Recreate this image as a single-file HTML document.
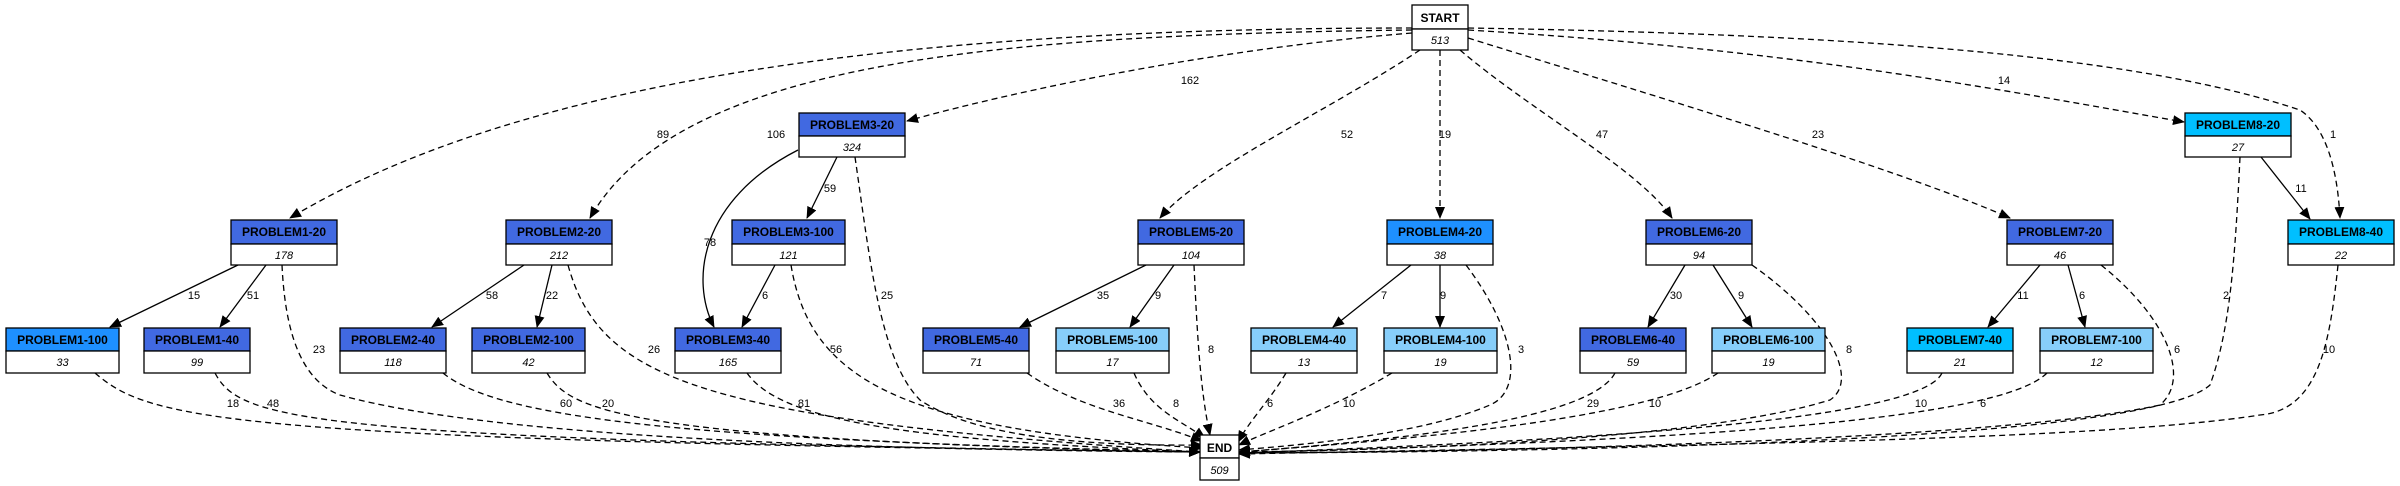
<!DOCTYPE html>
<html><head><meta charset="utf-8"><style>
body{margin:0;background:#fff;}
svg{display:block;font-family:"Liberation Sans",sans-serif;}
.n{stroke:#000;stroke-width:1.3;}
.h{font-weight:bold;font-size:12px;text-anchor:middle;}
.c{font-style:italic;font-size:11px;text-anchor:middle;}
.l{font-size:11px;text-anchor:middle;}
.e{fill:none;stroke:#000;stroke-width:1.3;}
.d{stroke-dasharray:6,4;}
</style></head><body>
<svg width="2400" height="486" viewBox="0 0 2400 486">
<defs><marker id="a" markerWidth="12" markerHeight="10" refX="11" refY="5" orient="auto" markerUnits="userSpaceOnUse"><path d="M0,0 L12,5 L0,10 z" fill="#000"/></marker></defs>
<g class="e d" marker-end="url(#a)">
<path d="M1412,28 C900,28 520,80 290,218"/>
<path d="M1412,30 C1000,35 680,60 590,218"/>
<path d="M1412,33 C1200,50 1000,95 907,121"/>
<path d="M1420,50 C1330,110 1200,170 1160,218"/>
<path d="M1440,50 L1440,218"/>
<path d="M1460,50 C1530,110 1640,170 1672,218"/>
<path d="M1468,38 C1700,110 1900,170 2010,218"/>
<path d="M1468,30 C1800,50 2000,90 2184,122"/>
<path d="M1468,28 C1900,35 2150,60 2300,110 C2330,130 2338,180 2340,218"/>
<path d="M95,373 C150,420 220,440 1200,452"/>
<path d="M215,373 C240,420 300,440 1200,452"/>
<path d="M282,265 C285,330 300,380 340,395 C500,440 900,450 1200,452"/>
<path d="M443,373 C500,420 700,440 1200,452"/>
<path d="M547,373 C570,410 620,440 1200,452"/>
<path d="M568,265 C600,380 700,420 1200,452"/>
<path d="M747,373 C780,420 900,440 1200,452"/>
<path d="M791,265 C810,380 900,430 1202,448"/>
<path d="M855,157 C870,260 880,360 920,400 C980,440 1100,446 1202,445"/>
<path d="M1027,373 C1080,410 1150,420 1202,441"/>
<path d="M1134,373 C1150,410 1180,420 1205,438"/>
<path d="M1194,265 C1197,330 1200,390 1210,435"/>
<path d="M1286,373 C1270,400 1250,420 1238,442"/>
<path d="M1392,373 C1330,410 1270,430 1239,445"/>
<path d="M1466,265 C1515,330 1525,390 1490,405 C1420,435 1300,445 1239,450"/>
<path d="M1615,373 C1590,420 1400,440 1239,452"/>
<path d="M1718,373 C1650,420 1400,440 1239,452"/>
<path d="M1752,265 C1830,320 1860,380 1830,400 C1700,440 1400,450 1239,452"/>
<path d="M1942,373 C1920,420 1600,440 1239,453"/>
<path d="M2047,373 C2000,420 1700,440 1239,453"/>
<path d="M2101,265 C2170,320 2190,380 2160,405 C2000,440 1500,452 1239,453"/>
<path d="M2240,157 C2235,260 2230,330 2210,385 C2150,440 1600,452 1239,453"/>
<path d="M2338,265 C2330,340 2320,410 2260,415 C2100,440 1700,445 1239,454"/>
</g>
<g class="e" marker-end="url(#a)">
<path d="M837,157 L807,218"/>
<path d="M798,150 C700,200 690,280 714,327"/>
<path d="M238,265 L110,327"/>
<path d="M266,265 L220,327"/>
<path d="M524,265 L432,327"/>
<path d="M552,265 L537,327"/>
<path d="M775,265 L742,327"/>
<path d="M1146,265 L1020,327"/>
<path d="M1174,265 L1130,327"/>
<path d="M1411,265 L1333,327"/>
<path d="M1440,265 L1440,327"/>
<path d="M1685,265 L1648,327"/>
<path d="M1713,265 L1752,327"/>
<path d="M2040,265 L1988,327"/>
<path d="M2068,265 L2085,327"/>
<path d="M2261,157 L2310,219"/>
</g>
<g class="l">
<text x="663" y="138">89</text><text x="776" y="138">106</text><text x="1190" y="84">162</text>
<text x="1347" y="138">52</text><text x="1445" y="138">19</text><text x="1602" y="138">47</text>
<text x="1818" y="138">23</text><text x="2004" y="84">14</text><text x="2333" y="138">1</text>
<text x="830" y="192">59</text><text x="710" y="246">78</text><text x="2301" y="192">11</text>
<text x="194" y="299">15</text><text x="253" y="299">51</text><text x="492" y="299">58</text><text x="552" y="299">22</text>
<text x="765" y="299">6</text><text x="887" y="299">25</text><text x="1103" y="299">35</text><text x="1158" y="299">9</text>
<text x="1384" y="299">7</text><text x="1443" y="299">9</text><text x="1676" y="299">30</text><text x="1741" y="299">9</text>
<text x="2023" y="299">11</text><text x="2082" y="299">6</text><text x="2226" y="299">2</text>
<text x="319" y="353">23</text><text x="654" y="353">26</text><text x="836" y="353">56</text><text x="1211" y="353">8</text>
<text x="1521" y="353">3</text><text x="1849" y="353">8</text><text x="2177" y="353">6</text><text x="2329" y="353">10</text>
<text x="233" y="407">18</text><text x="273" y="407">48</text><text x="566" y="407">60</text><text x="608" y="407">20</text>
<text x="804" y="407">81</text><text x="1119" y="407">36</text><text x="1176" y="407">8</text><text x="1270" y="407">6</text>
<text x="1349" y="407">10</text><text x="1593" y="407">29</text><text x="1655" y="407">10</text><text x="1921" y="407">10</text><text x="1983" y="407">6</text>
</g>
<g>
<rect class="n" x="1412" y="5" width="56" height="24" fill="#fff"/><rect class="n" x="1412" y="29" width="56" height="21" fill="#fff"/>
<text class="h" x="1440" y="22">START</text><text class="c" x="1440" y="44">513</text>
<rect class="n" x="1200" y="435" width="39" height="23" fill="#fff"/><rect class="n" x="1200" y="458" width="39" height="22" fill="#fff"/>
<text class="h" x="1219.5" y="452">END</text><text class="c" x="1219.5" y="474">509</text>
</g>
<g>
<rect class="n" x="799" y="113" width="106" height="23" fill="#4169e1"/><rect class="n" x="799" y="136" width="106" height="21" fill="#fff"/>
<text class="h" x="852" y="129">PROBLEM3-20</text><text class="c" x="852" y="151">324</text>
<rect class="n" x="2185" y="113" width="106" height="23" fill="#00bfff"/><rect class="n" x="2185" y="136" width="106" height="21" fill="#fff"/>
<text class="h" x="2238" y="129">PROBLEM8-20</text><text class="c" x="2238" y="151">27</text>
<rect class="n" x="231" y="220" width="106" height="24" fill="#4169e1"/><rect class="n" x="231" y="244" width="106" height="21" fill="#fff"/>
<text class="h" x="284" y="236">PROBLEM1-20</text><text class="c" x="284" y="259">178</text>
<rect class="n" x="506" y="220" width="106" height="24" fill="#4169e1"/><rect class="n" x="506" y="244" width="106" height="21" fill="#fff"/>
<text class="h" x="559" y="236">PROBLEM2-20</text><text class="c" x="559" y="259">212</text>
<rect class="n" x="732" y="220" width="113" height="24" fill="#4169e1"/><rect class="n" x="732" y="244" width="113" height="21" fill="#fff"/>
<text class="h" x="788.5" y="236">PROBLEM3-100</text><text class="c" x="788.5" y="259">121</text>
<rect class="n" x="1138" y="220" width="106" height="24" fill="#4169e1"/><rect class="n" x="1138" y="244" width="106" height="21" fill="#fff"/>
<text class="h" x="1191" y="236">PROBLEM5-20</text><text class="c" x="1191" y="259">104</text>
<rect class="n" x="1387" y="220" width="106" height="24" fill="#1e90ff"/><rect class="n" x="1387" y="244" width="106" height="21" fill="#fff"/>
<text class="h" x="1440" y="236">PROBLEM4-20</text><text class="c" x="1440" y="259">38</text>
<rect class="n" x="1646" y="220" width="106" height="24" fill="#4169e1"/><rect class="n" x="1646" y="244" width="106" height="21" fill="#fff"/>
<text class="h" x="1699" y="236">PROBLEM6-20</text><text class="c" x="1699" y="259">94</text>
<rect class="n" x="2007" y="220" width="106" height="24" fill="#4169e1"/><rect class="n" x="2007" y="244" width="106" height="21" fill="#fff"/>
<text class="h" x="2060" y="236">PROBLEM7-20</text><text class="c" x="2060" y="259">46</text>
<rect class="n" x="2288" y="220" width="106" height="24" fill="#00bfff"/><rect class="n" x="2288" y="244" width="106" height="21" fill="#fff"/>
<text class="h" x="2341" y="236">PROBLEM8-40</text><text class="c" x="2341" y="259">22</text>
<rect class="n" x="6" y="328" width="113" height="23" fill="#1e90ff"/><rect class="n" x="6" y="351" width="113" height="22" fill="#fff"/>
<text class="h" x="62.5" y="344">PROBLEM1-100</text><text class="c" x="62.5" y="366">33</text>
<rect class="n" x="144" y="328" width="106" height="23" fill="#4169e1"/><rect class="n" x="144" y="351" width="106" height="22" fill="#fff"/>
<text class="h" x="197" y="344">PROBLEM1-40</text><text class="c" x="197" y="366">99</text>
<rect class="n" x="340" y="328" width="106" height="23" fill="#4169e1"/><rect class="n" x="340" y="351" width="106" height="22" fill="#fff"/>
<text class="h" x="393" y="344">PROBLEM2-40</text><text class="c" x="393" y="366">118</text>
<rect class="n" x="472" y="328" width="113" height="23" fill="#4169e1"/><rect class="n" x="472" y="351" width="113" height="22" fill="#fff"/>
<text class="h" x="528.5" y="344">PROBLEM2-100</text><text class="c" x="528.5" y="366">42</text>
<rect class="n" x="675" y="328" width="106" height="23" fill="#4169e1"/><rect class="n" x="675" y="351" width="106" height="22" fill="#fff"/>
<text class="h" x="728" y="344">PROBLEM3-40</text><text class="c" x="728" y="366">165</text>
<rect class="n" x="923" y="328" width="106" height="23" fill="#4169e1"/><rect class="n" x="923" y="351" width="106" height="22" fill="#fff"/>
<text class="h" x="976" y="344">PROBLEM5-40</text><text class="c" x="976" y="366">71</text>
<rect class="n" x="1056" y="328" width="113" height="23" fill="#87cefa"/><rect class="n" x="1056" y="351" width="113" height="22" fill="#fff"/>
<text class="h" x="1112.5" y="344">PROBLEM5-100</text><text class="c" x="1112.5" y="366">17</text>
<rect class="n" x="1251" y="328" width="106" height="23" fill="#87cefa"/><rect class="n" x="1251" y="351" width="106" height="22" fill="#fff"/>
<text class="h" x="1304" y="344">PROBLEM4-40</text><text class="c" x="1304" y="366">13</text>
<rect class="n" x="1384" y="328" width="113" height="23" fill="#87cefa"/><rect class="n" x="1384" y="351" width="113" height="22" fill="#fff"/>
<text class="h" x="1440.5" y="344">PROBLEM4-100</text><text class="c" x="1440.5" y="366">19</text>
<rect class="n" x="1580" y="328" width="106" height="23" fill="#4169e1"/><rect class="n" x="1580" y="351" width="106" height="22" fill="#fff"/>
<text class="h" x="1633" y="344">PROBLEM6-40</text><text class="c" x="1633" y="366">59</text>
<rect class="n" x="1712" y="328" width="113" height="23" fill="#87cefa"/><rect class="n" x="1712" y="351" width="113" height="22" fill="#fff"/>
<text class="h" x="1768.5" y="344">PROBLEM6-100</text><text class="c" x="1768.5" y="366">19</text>
<rect class="n" x="1907" y="328" width="106" height="23" fill="#00bfff"/><rect class="n" x="1907" y="351" width="106" height="22" fill="#fff"/>
<text class="h" x="1960" y="344">PROBLEM7-40</text><text class="c" x="1960" y="366">21</text>
<rect class="n" x="2040" y="328" width="113" height="23" fill="#87cefa"/><rect class="n" x="2040" y="351" width="113" height="22" fill="#fff"/>
<text class="h" x="2096.5" y="344">PROBLEM7-100</text><text class="c" x="2096.5" y="366">12</text>
</g>
</svg>
</body></html>
